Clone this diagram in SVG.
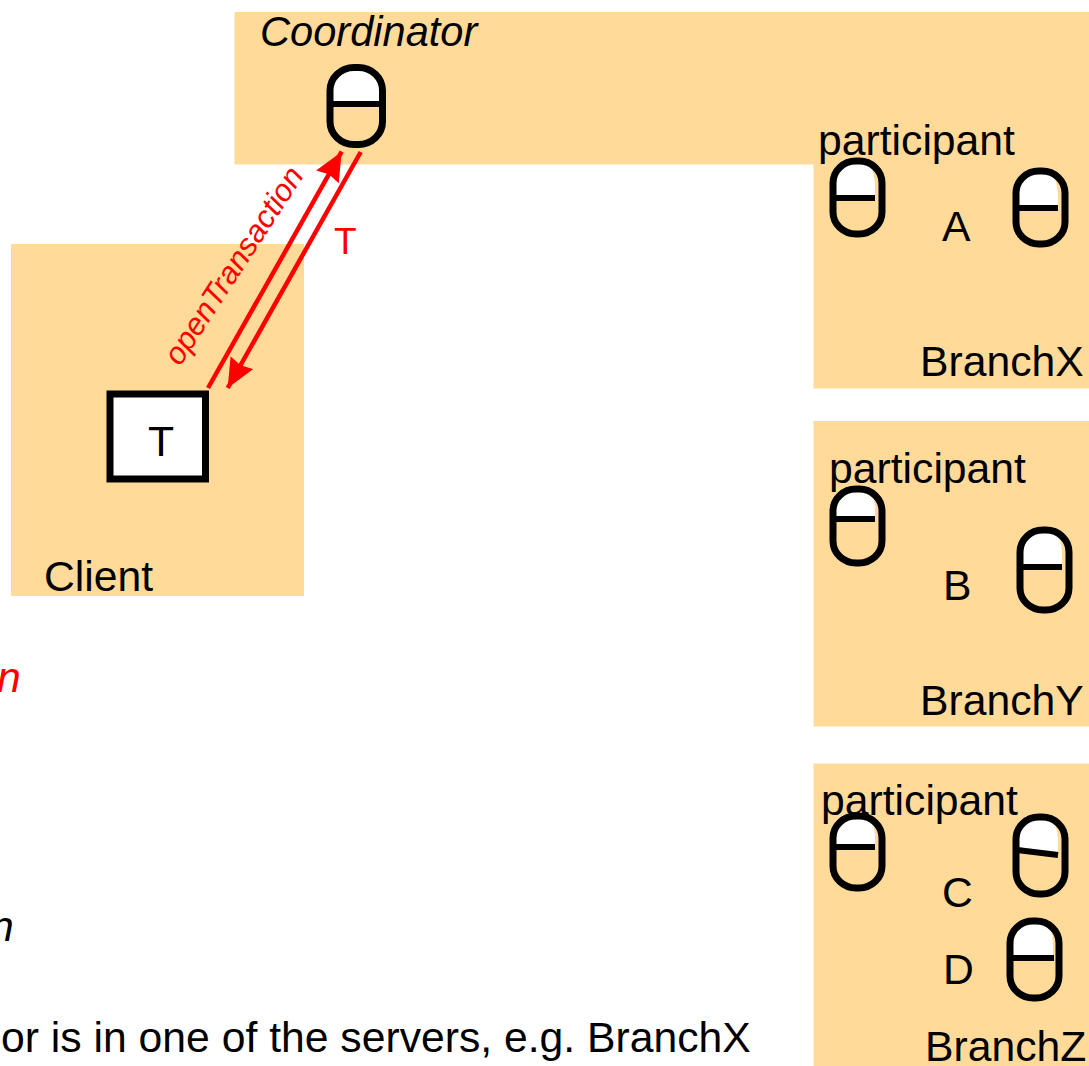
<svg xmlns="http://www.w3.org/2000/svg" width="1089" height="1066" viewBox="0 0 1089 1066">
<style>
text{font-family:"Liberation Sans",Arial,sans-serif;font-size:42.7px;fill:#000}
.i{font-style:italic}
.r{fill:#f00}
.bg{fill:#FFDA99}
.cap{fill:none;stroke:#000;stroke-width:7}
.w{fill:#fff}
.div{stroke:#000;stroke-width:6;fill:none}
.arr{stroke:#f00;stroke-width:4.5;fill:none;marker-end:url(#ah)}
</style>
<defs>
<marker id="ah" markerUnits="userSpaceOnUse" markerWidth="32" markerHeight="28" refX="29" refY="13" orient="auto"><path d="M0 0L29 13L0 26L3 13Z" fill="#f00"/></marker>
</defs>
<rect width="1089" height="1066" fill="#fff"/>
<g id="regions">
<rect class="bg" x="234.5" y="12" width="854.5" height="152.5"/>
<rect class="bg" x="813.5" y="164" width="275.5" height="224.5"/>
<rect class="bg" x="813.5" y="421" width="275.5" height="305.5"/>
<rect class="bg" x="813.5" y="763.5" width="275.5" height="302.5"/>
<rect class="bg" x="11" y="244" width="293" height="352"/>
</g>
<g id="coordinator">
<text class="i" x="260" y="46" style="font-size:41.6px">Coordinator</text>
<path class="w" d="M332 104V88Q332 70 350 70H362Q382 70 382 90V104Z"/>
<rect class="cap" x="330" y="67.500" width="52.500" height="77" rx="24" ry="23"/>
<path class="div" d="M330 104H383"/>
</g>
<g id="client">
<text x="44" y="591">Client</text>
<rect x="110" y="394" width="95.500" height="85" fill="#fff" stroke="#000" stroke-width="7"/>
<text x="148" y="456">T</text>
</g>
<g id="branchx">
<text x="818" y="155">participant</text>
<text x="920" y="376">BranchX</text>
<text x="942" y="241">A</text>
<g id="capsule-a1">
<path class="w" d="M835 195V178Q835 162 850 162H862Q875 162 875 190V195Z"/>
<rect class="cap" x="833" y="161" width="49" height="73" rx="23" ry="22"/>
<path class="div" d="M834 198H875"/>
</g>
<g id="capsule-a2">
<path class="w" d="M1018 205V188Q1018 172 1033 172H1045Q1058 172 1058 200V205Z"/>
<rect class="cap" x="1016" y="171" width="49" height="73" rx="23" ry="22"/>
<path class="div" d="M1017 208H1058"/>
</g>
</g>
<g id="branchy">
<text x="829" y="483">participant</text>
<text x="920" y="715">BranchY</text>
<text x="943" y="600">B</text>
<g id="capsule-b1">
<path class="w" d="M835 516V506Q835 490 850 490H862Q875 490 875 510V516Z"/>
<rect class="cap" x="833" y="489" width="49" height="74" rx="23" ry="22"/>
<path class="div" d="M834 519H875"/>
</g>
<g id="capsule-b2">
<path class="w" d="M1022 564V548Q1022 532 1037 532H1049Q1062 532 1062 555V564Z"/>
<rect class="cap" x="1020" y="530" width="49" height="80" rx="23" ry="22"/>
<path class="div" d="M1021 567H1062"/>
</g>
</g>
<g id="branchz">
<text x="821" y="815">participant</text>
<text x="925" y="1061">BranchZ</text>
<text x="942" y="907">C</text>
<text x="943" y="984">D</text>
<g id="capsule-c1">
<path class="w" d="M835 844V832Q835 818 850 818H862Q875 818 875 838V844Z"/>
<rect class="cap" x="833" y="816" width="49" height="72" rx="23" ry="22"/>
<path class="div" d="M834 847H875"/>
</g>
<g id="capsule-c2">
<path class="w" d="M1018 847V834Q1018 819 1033 819H1045Q1058 819 1058 842V852Z"/>
<rect class="cap" x="1016" y="817" width="49" height="77" rx="23" ry="22"/>
<path class="div" d="M1017 850L1058 855"/>
</g>
<g id="capsule-d">
<path class="w" d="M1012 955V938Q1012 923 1027 923H1040Q1053 923 1053 945V955Z"/>
<rect class="cap" x="1010" y="921" width="49" height="77" rx="23" ry="22"/>
<path class="div" d="M1011 958H1054"/>
</g>
</g>
<g id="connectors">
<path class="arr" d="M208 388L341.700 151.700"/>
<path class="arr" d="M360.700 152L227.700 388"/>
</g>
<g id="labels">
<text class="i r" style="font-size:31px" transform="translate(180 367) rotate(-57)">openTransaction</text>
<text class="r" style="font-size:37px" x="334" y="254">T</text>
<text class="i r" x="-3" y="692">n</text>
<text class="i" x="-10" y="941">n</text>
<text x="1" y="1052">or is in one of the servers, e.g. BranchX</text>
</g>
</svg>
